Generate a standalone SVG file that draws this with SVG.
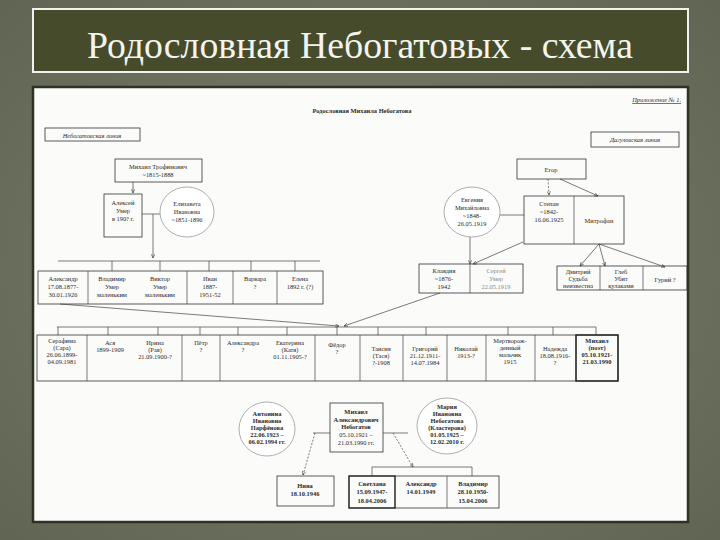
<svg xmlns="http://www.w3.org/2000/svg" width="720" height="540" viewBox="0 0 720 540">
<defs>
<radialGradient id="bg" cx="50%" cy="50%" r="75%">
<stop offset="0" stop-color="#7b7f6c"/>
<stop offset="1" stop-color="#5f6352"/>
</radialGradient>
<marker id="ah" viewBox="0 0 10 10" refX="9" refY="5" markerWidth="6" markerHeight="6" orient="auto-start-reverse">
<path d="M0,1 L9,5 L0,9" fill="none" stroke="#333" stroke-width="1.4"/>
</marker>
<style>
.t{font-family:"Liberation Serif","Times New Roman",serif;font-size:6.4px;fill:#2a2a2a;text-anchor:middle}
.b{font-weight:bold}
.i{font-style:italic}
.g{fill:#8a8a8a}
.bx{fill:none;stroke:#333;stroke-width:0.8}
.ln{fill:none;stroke:#444;stroke-width:0.7}
.ar{fill:none;stroke:#444;stroke-width:0.7;marker-end:url(#ah)}
.da{stroke-dasharray:2,1.5}
.el{fill:#fff;stroke:#999;stroke-width:0.8}
</style>
</defs>
<rect width="720" height="540" fill="url(#bg)"/>
<g id="title">
<rect x="33" y="9" width="655" height="63" fill="#464b2b" stroke="#f2f2ee" stroke-width="2"/>
<text x="360" y="58" font-family="Liberation Serif,serif" font-size="38" fill="#f4f4ee" text-anchor="middle" textLength="546" lengthAdjust="spacingAndGlyphs">Родословная Небогатовых - схема</text>
</g>
<g id="page">
<rect x="33" y="87" width="655" height="435" fill="#fbfbfa" stroke="#2e3222" stroke-width="2.5"/>
<text class="t b" x="362" y="113" font-size="8.5">Родословная Михаила Небогатова</text>
<text class="t i" x="681" y="102" font-size="7.5" text-anchor="end" text-decoration="underline" style="text-anchor:end">Приложение № 1.</text>
</g>
<g id="connectors">
<line class="ar" x1="133" y1="182" x2="133" y2="193"/>
<line class="ln" x1="142" y1="214" x2="160" y2="214"/>
<line class="ar" x1="153" y1="214" x2="153" y2="258"/>
<path class="ln" d="M58,261 H320 M112,261 V271 M160,261 V271 M209,261 V271 M251,261 V271 M295,261 V271"/>
<line class="ar da" x1="548" y1="179" x2="549" y2="195"/>
<line class="ar" x1="560" y1="179" x2="598" y2="196"/>
<line class="ln" x1="500" y1="215" x2="524" y2="215"/>
<line class="ar" x1="470" y1="237" x2="470" y2="264"/>
<line class="ar" x1="523" y1="242" x2="473" y2="264"/>
<line class="ar" x1="599" y1="244" x2="580" y2="266"/>
<line class="ar" x1="599" y1="244" x2="605" y2="266"/>
<line class="ar" x1="599" y1="244" x2="665" y2="267"/>
<line class="ar" x1="60" y1="304" x2="339" y2="326"/>
<line class="ar" x1="440" y1="293" x2="344" y2="326"/>
<path class="ln" d="M57,327 H596 M58,327 V335 M108,327 V335 M158,327 V335 M200,327 V335 M238,327 V335 M287,327 V335 M337,327 V335 M378,327 V335 M426,327 V335 M508,327 V335 M553,327 V335 M596,327 V335"/>
<line class="ln" x1="313" y1="433" x2="330" y2="433"/>
<line class="ln" x1="383" y1="433" x2="408" y2="433"/>
<line class="ar da" x1="315" y1="433" x2="303" y2="475"/>
<line class="ar da" x1="393" y1="433" x2="413" y2="467"/>
<path class="ln" d="M372,467 H472 M372,467 V476 M472,467 V476"/>
</g>
<g id="n-nebline"><rect class="bx" x="45" y="128" width="95" height="13"/><text class="t i" x="92" y="137.5">Небогатовская линия</text></g>
<g id="n-dagline"><rect class="bx" x="591" y="132" width="88" height="15"/><text class="t i" x="635" y="142">Дагуловская линия</text></g>
<g id="n-mikhail-t"><rect class="bx" x="115" y="159" width="87" height="23"/><text class="t" x="158" y="168.5">Михаил Трофимович</text><text class="t" x="158" y="177">~1815-1888</text></g>
<g id="n-aleksey"><rect class="bx" x="104" y="194" width="38" height="43"/><text class="t" x="123" y="205">Алексей</text><text class="t" x="123" y="213">Умер</text><text class="t" x="123" y="221">в 190? г.</text></g>
<g id="n-elizaveta"><ellipse class="el" cx="187" cy="212" rx="27" ry="25"/><text class="t" x="187" y="206">Елизавета</text><text class="t" x="187" y="214">Ивановна</text><text class="t" x="187" y="222">~1851-1896</text></g>
<g id="row1">
<rect class="bx" x="38" y="271" width="285" height="33"/>
<path class="ln" d="M88,271 V304 M187,271 V304 M233,271 V304 M277,271 V304"/>
<text class="t" x="63" y="281">Александр</text><text class="t" x="63" y="289">17.08.1877-</text><text class="t" x="63" y="297">30.01.1926</text>
<text class="t" x="112" y="281">Владимир</text><text class="t" x="112" y="289">Умер</text><text class="t" x="112" y="297">маленьким</text>
<text class="t" x="160" y="281">Виктор</text><text class="t" x="160" y="289">Умер</text><text class="t" x="160" y="297">маленьким</text>
<text class="t" x="210" y="281">Иван</text><text class="t" x="210" y="289">1887-</text><text class="t" x="210" y="297">1951-52</text>
<text class="t" x="255" y="281">Варвара</text><text class="t" x="255" y="289">?</text>
<text class="t" x="300" y="281">Елена</text><text class="t" x="300" y="289">1892 г. (?)</text>
</g>
<g id="n-egor"><rect class="bx" x="517" y="159" width="69" height="20"/><text class="t" x="551" y="171.5">Егор</text></g>
<g id="n-evgeniya"><ellipse class="el" cx="472" cy="212" rx="28" ry="25"/><text class="t" x="472" y="202">Евгения</text><text class="t" x="472" y="210">Михайловна</text><text class="t" x="472" y="218">~1848-</text><text class="t" x="472" y="226">26.05.1919</text></g>
<g id="n-stepan"><rect class="bx" x="524" y="196" width="100" height="48"/><line class="ln" x1="574" y1="196" x2="574" y2="244"/><text class="t" x="549" y="206">Степан</text><text class="t" x="549" y="214">~1842-</text><text class="t" x="549" y="222">16.06.1925</text><text class="t" x="599" y="223">Митрофан</text></g>
<g id="n-klavdiya"><rect class="bx" x="419" y="264" width="104" height="29"/><line class="ln" x1="470" y1="264" x2="470" y2="293"/><text class="t" x="444" y="273">Клавдия</text><text class="t" x="444" y="281">~1876-</text><text class="t" x="444" y="289">1942</text><text class="t g" x="496" y="273">Сергей</text><text class="t g" x="496" y="281">Умер</text><text class="t g" x="496" y="289">22.05.1919</text></g>
<g id="n-mitrofan-kids"><rect class="bx" x="557" y="266" width="130" height="24"/><path class="ln" d="M600,266 V290 M643,266 V290"/><text class="t" x="578" y="274">Дмитрий</text><text class="t" x="578" y="281">Судьба</text><text class="t" x="578" y="288" font-size="5.5">неизвестна</text><text class="t" x="621" y="274">Глеб</text><text class="t" x="621" y="281">Убит</text><text class="t" x="621" y="288" font-size="5.5">кулаками</text><text class="t" x="665" y="282">Гурий ?</text></g>
<g id="row2">
<rect class="bx" x="37" y="335" width="581" height="46"/>
<path class="ln" d="M87,335 V381 M182,335 V381 M220,335 V381 M315,335 V381 M360,335 V381 M403,335 V381 M447,335 V381 M486,335 V381 M535,335 V381 M576,335 V381"/>
<rect x="576" y="335" width="42" height="46" fill="none" stroke="#222" stroke-width="1.4"/>
<text class="t" x="62" y="343">Серафима</text><text class="t" x="62" y="350">(Сара)</text><text class="t" x="62" y="357">26.06.1899-</text><text class="t" x="62" y="364">04.09.1981</text>
<text class="t" x="110" y="345">Ася</text><text class="t" x="110" y="352">1899-1909</text>
<text class="t" x="155" y="345">Ирина</text><text class="t" x="155" y="352">(Рая)</text><text class="t" x="155" y="359">21.09.1900-?</text>
<text class="t" x="201" y="345">Пётр</text><text class="t" x="201" y="352">?</text>
<text class="t" x="243" y="345">Александра</text><text class="t" x="243" y="352">?</text>
<text class="t" x="290" y="345">Екатерина</text><text class="t" x="290" y="352">(Катя)</text><text class="t" x="290" y="359">01.11.1905-?</text>
<text class="t" x="337" y="347">Фёдор</text><text class="t" x="337" y="354">?</text>
<text class="t" x="381" y="351">Таисия</text><text class="t" x="381" y="358">(Тася)</text><text class="t" x="381" y="365">?-1908</text>
<text class="t" x="425" y="351">Григорий</text><text class="t" x="425" y="358">21.12.1911-</text><text class="t" x="425" y="365">14.07.1984</text>
<text class="t" x="466" y="351">Николай</text><text class="t" x="466" y="358">1913-?</text>
<text class="t" x="510" y="343">Мертворож-</text><text class="t" x="510" y="350">денный</text><text class="t" x="510" y="357">мальчик</text><text class="t" x="510" y="364">1915</text>
<text class="t" x="555" y="351">Надежда</text><text class="t" x="555" y="358">18.08.1916-</text><text class="t" x="555" y="365">?</text>
<text class="t b" x="597" y="343">Михаил</text><text class="t b" x="597" y="350">(поэт)</text><text class="t b" x="597" y="357">05.10.1921-</text><text class="t b" x="597" y="364">21.03.1990</text>
</g>
<g id="n-antonina"><ellipse class="el" cx="267" cy="429" rx="28" ry="27"/><g class="b"><text class="t b" x="267" y="416" font-size="5.6">Антонина</text><text class="t b" x="267" y="423" font-size="5.6">Ивановна</text><text class="t b" x="267" y="430" font-size="5.6">Парфёнова</text><text class="t b" x="267" y="437" font-size="5.6">22.06.1923 –</text><text class="t b" x="267" y="444" font-size="5.6">06.02.1994 гг.</text></g></g>
<g id="n-mikhail"><rect class="bx" x="330" y="403" width="53" height="49"/><text class="t b" x="356" y="414" font-size="6">Михаил</text><text class="t b" x="356" y="421.5" font-size="6">Александрович</text><text class="t b" x="356" y="429" font-size="6">Небогатов</text><text class="t" x="356" y="437" font-size="6">05.10.1921 –</text><text class="t" x="356" y="444.5" font-size="6">21.03.1990 гг.</text></g>
<g id="n-mariya"><ellipse class="el" cx="447" cy="426" rx="30" ry="28"/><text class="t b" x="447" y="409" font-size="5.6">Мария</text><text class="t b" x="447" y="416" font-size="5.6">Ивановна</text><text class="t b" x="447" y="423" font-size="5.6">Небогатова</text><text class="t b" x="447" y="430" font-size="5.6">(Кластерова)</text><text class="t b" x="447" y="437" font-size="5.6">01.05.1925 –</text><text class="t b" x="447" y="444" font-size="5.6">12.02.2010 г.</text></g>
<g id="n-nina"><rect class="bx" x="277" y="476" width="57" height="30"/><text class="t b" x="305" y="488" font-size="6">Нина</text><text class="t b" x="305" y="496" font-size="6">18.10.1946</text></g>
<g id="n-children"><rect class="bx" x="349" y="476" width="150" height="32"/><path class="ln" d="M395,476 V508 M447,476 V508"/><rect x="349" y="476" width="46" height="32" fill="none" stroke="#222" stroke-width="1.2"/><text class="t b" x="372" y="486" font-size="6">Светлана</text><text class="t b" x="372" y="494" font-size="6">15.09.1947-</text><text class="t b" x="372" y="503" font-size="6">18.04.2006</text><text class="t b" x="421" y="486" font-size="6">Александр</text><text class="t b" x="421" y="494" font-size="6">14.01.1949</text><text class="t b" x="473" y="486" font-size="6">Владимир</text><text class="t b" x="473" y="494" font-size="6">28.10.1950-</text><text class="t b" x="473" y="503" font-size="6">15.04.2006</text></g>
</svg>
